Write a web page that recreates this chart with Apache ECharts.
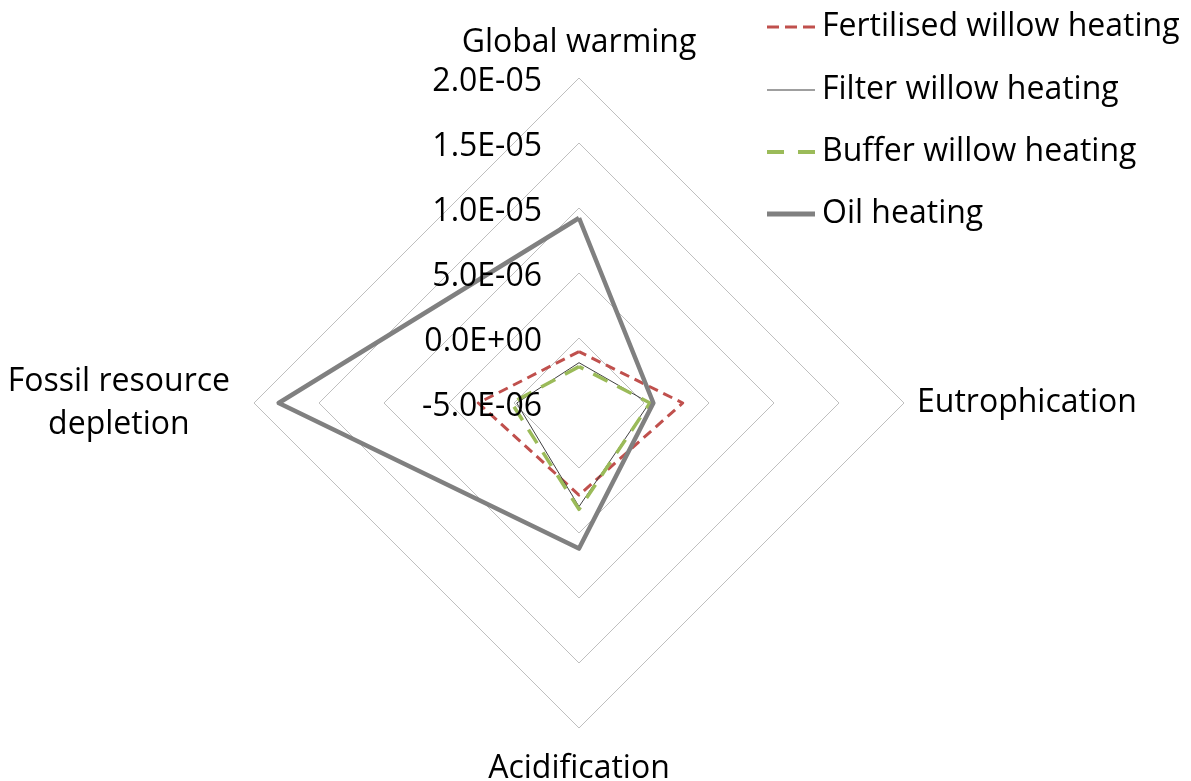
<!DOCTYPE html>
<html>
<head>
<meta charset="utf-8">
<title>Radar</title>
<script src="https://cdn.jsdelivr.net/npm/echarts@6/dist/echarts.min.js"></script>
<style>
    html,body{margin:0;padding:0;background:#fff;}
    #chart{width:1191px;height:781px;}
</style>
</head>
<body>
<div id="chart"></div>
<script>
    // indicators, counter-clockwise from the top (echarts radar order)
    var categories = ['Global warming', 'Fossil resource depletion', 'Acidification', 'Eutrophication'];
    var seriesNames = ['Fertilised willow heating', 'Filter willow heating', 'Buffer willow heating', 'Oil heating'];

    var fertilised = [-1.05e-6, 2.75e-6, 2.08e-6, 2.98e-6];
    var filter = [-1.9e-6, -0.21e-6, 2.97e-6, 0.41e-6];
    var buffer = [-2.2e-6, 0.18e-6, 3.18e-6, 0.46e-6];
    var oil = [9.23e-6, 1.81e-5, 6.2e-6, 0.72e-6];

    var axisMin = -5e-6;
    var axisMax = 2e-5;
    var axisStep = 5e-6;

    var FONT = 'Open Sans';
    var FS = 32;

    function sci(v){
        var p = Number(v).toExponential(1).split('e');
        var e = parseInt(p[1], 10);
        var s = e < 0 ? '-' : '+';
        e = Math.abs(e);
        return '{n|' + p[0] + 'E' + s + (e < 10 ? '0' + e : e) + '}';
    }

    var chart = echarts.init(document.getElementById('chart'));

    var styles = [
        {color: '#c0504d', width: 3, type: [10, 6]},
        {color: '#404040', width: 1, type: 'solid'},
        {color: '#9bbb59', width: 3.5, type: [16, 11]},
        {color: '#808080', width: 4.5, type: 'solid'}
    ];
    var values = [fertilised, filter, buffer, oil];

    // legend icons drawn as paths, one legend per row so each has its own height
    var icons = [
        {path: 'path://M0,0h12v3h-12z M18,0h12v3h-12z M36,0h12v3h-12z', h: 3},
        {path: 'path://M0,0h48v1h-48z', h: 1},
        {path: 'path://M0,0h17v4h-17z M31,0h17v4h-17z', h: 4},
        {path: 'path://M0,0h48v5h-48z', h: 5}
    ];
    var legendTops = [11, 74, 136, 198];

    var legends = seriesNames.map(function(n, i){
        return {
            data: [{name: n, icon: icons[i].path}],
            left: 767,
            top: legendTops[i],
            padding: 0,
            itemWidth: 48,
            itemHeight: icons[i].h,
            itemGap: 7,
            selectedMode: false,
            textStyle: {fontFamily: FONT, fontSize: FS, color: '#000', padding: [0, 0, 0, 2]}
        };
    });

    var series = seriesNames.map(function(n, i){
        return {
            name: n,
            type: 'radar',
            symbol: 'none',
            silent: true,
            lineStyle: styles[i],
            itemStyle: {color: styles[i].color},
            data: [{name: n, value: values[i]}]
        };
    });

    var option = {
        animation: false,
        legend: legends,
        radar: {
            center: [579, 403],
            radius: 325,
            shape: 'polygon',
            splitNumber: 5,
            indicator: categories.map(function(c){
                return {name: c, min: axisMin, max: axisMax};
            }),
            nameGap: 13,
            axisName: {
                color: '#000',
                fontFamily: FONT,
                fontSize: FS,
                formatter: function(name){
                    if(name === 'Global warming') return '{t|' + name + '}';
                    if(name === 'Fossil resource depletion') return '{l|Fossil resource}\n{l|depletion}';
                    if(name === 'Acidification') return '{b|' + name + '}';
                    return name;
                },
                rich: {
                    t: {fontFamily: FONT, fontSize: FS, color: '#000', padding: [0, 0, 6, 0]},
                    l: {fontFamily: FONT, fontSize: FS, color: '#000', align: 'center', lineHeight: 43, padding: [0, 11, 0, 0]},
                    b: {fontFamily: FONT, fontSize: FS, color: '#000', padding: [12, 0, 0, 0]}
                }
            },
            axisLine: {show: false},
            axisTick: {show: false},
            splitArea: {show: false},
            splitLine: {lineStyle: {color: '#bfbfbf', width: 1}}
        },
        // tick labels along the top spoke
        grid: {left: 579, top: 78, width: 1, height: 325},
        xAxis: {type: 'value', show: false},
        yAxis: {
            type: 'value',
            min: axisMin,
            max: axisMax,
            interval: axisStep,
            z: 10,
            axisLine: {show: false},
            axisTick: {show: false},
            splitLine: {show: false},
            axisLabel: {
                margin: 37,
                color: '#000',
                fontFamily: FONT,
                fontSize: FS,
                formatter: sci,
                rich: {
                    n: {fontFamily: FONT, fontSize: FS, color: '#000', padding: [8, 0, 0, 0]}
                }
            }
        },
        series: series
    };

    chart.setOption(option);
</script>
</body>
</html>
